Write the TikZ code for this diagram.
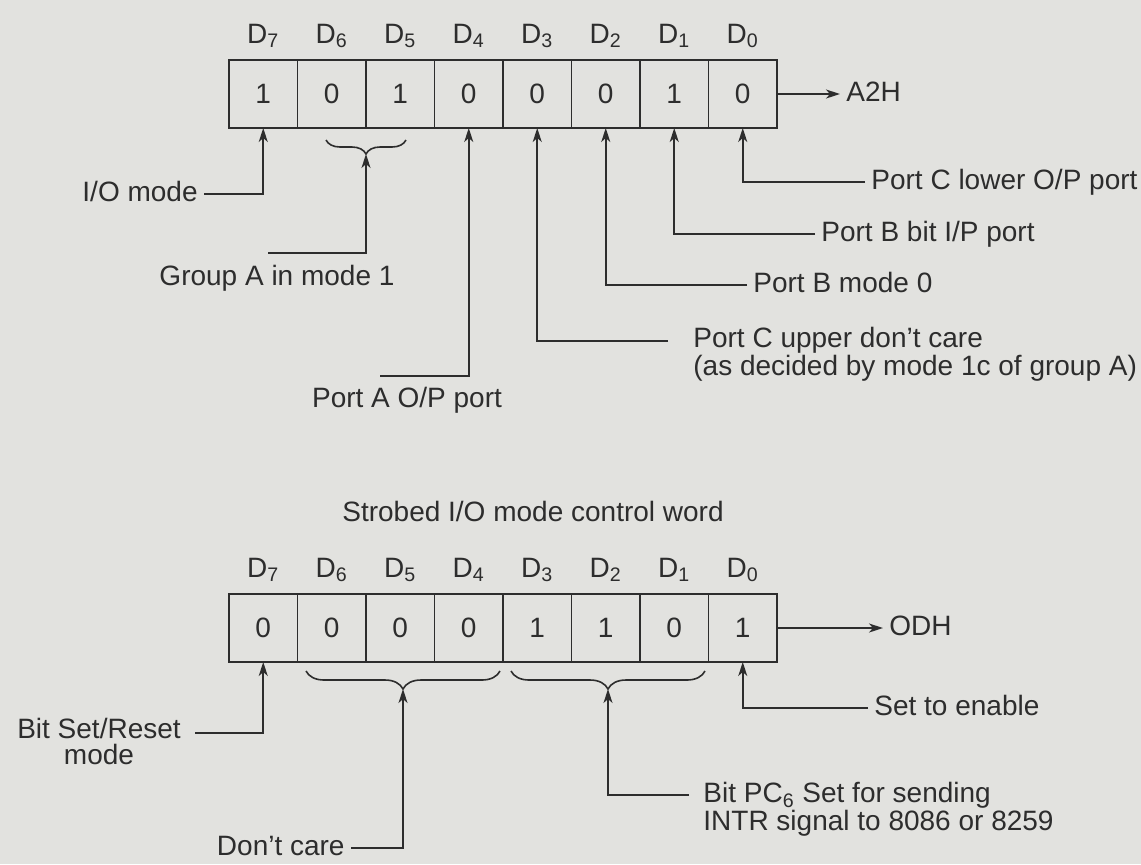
\documentclass[tikz,border=0pt]{standalone}
\usepackage{fontspec}
\setmainfont{Liberation Sans}
\usetikzlibrary{positioning,arrows.meta,decorations.pathreplacing}
\definecolor{paper}{RGB}{226,226,223}
\definecolor{ink}{RGB}{45,45,45}

\begin{document}
\begin{tikzpicture}[x=0.5pt, y=-0.5pt,
    every node/.style={font=\fontsize{14}{13}\selectfont, text=ink},
    cell/.style={draw=ink, line width=0.8pt, minimum width=34.25pt, minimum height=34pt, inner sep=0pt, outer sep=0pt},
    txt/.style={inner sep=3pt, text height=10pt, text depth=3pt},
    multi/.style={inner sep=3pt, align=left},
    arr/.style={draw=ink, line width=0.8pt, -{Stealth[length=7pt,width=4.5pt,inset=2pt]}},
    brc/.style={draw=ink, line width=0.8pt, decorate, decoration={brace, mirror, amplitude=#1}}]

    % paper
    \fill[paper] (0,0) rectangle (1141,864);
    \useasboundingbox (0,0) rectangle (1141,864);

    % Mode word A2H
    \foreach \b/\v in {7/1,6/0,5/1,4/0,3/0,2/0,1/1,0/0} {
        \node[cell] (t\b) at ({263.25+68.5*(7-\b)},94) {\v};
        \node[txt, above=2pt of t\b] (dt\b) {D\textsubscript{\b}};
    }
    \node[txt, anchor=west] (a2h) at (840,94) {A2H};
    \draw[arr] (t0.east) -- (a2h.west);

    \draw[brc=7pt] (326,140) -- (406,140);
    \coordinate (brA) at (366,154);

    \node[txt, anchor=east] (iom) at (204,194) {I/O mode};
    \draw[arr] (iom.east) -| (t7.south);

    \node[txt] (grpa) at (277,278) {Group A in mode 1};
    \coordinate (gaend) at (268,253);
    \draw[arr] (gaend) -| (brA);

    \node[txt] (porta) at (407,400) {Port A O/P port};
    \coordinate (paend) at (380,376);
    \draw[arr] (paend) -| (t4.south);

    \node[multi, anchor=north west] (pcu) at (687,321) {Port C upper don't care\\(as decided by mode 1c of group A)};
    \coordinate (pcuend) at (668,341);
    \draw[arr] (pcuend) -| (t3.south);

    \node[txt, anchor=west] (pbm) at (747,285) {Port B mode 0};
    \draw[arr] (pbm.west) -| (t2.south);

    \node[txt, anchor=west] (pbb) at (815,234) {Port B bit I/P port};
    \draw[arr] (pbb.west) -| (t1.south);

    \node[txt, anchor=west] (pcl) at (865,182) {Port C lower O/P port};
    \draw[arr] (pcl.west) -| (t0.south);

    % Bit set/reset word ODH
    \node[txt] (title) at (533,514) {Strobed I/O mode control word};
    \foreach \b/\v in {7/0,6/0,5/0,4/0,3/1,2/1,1/0,0/1} {
        \node[cell] (b\b) at ({263.25+68.5*(7-\b)},628) {\v};
        \node[txt, above=2pt of b\b] (db\b) {D\textsubscript{\b}};
    }
    \node[txt, anchor=west] (odh) at (883,628) {ODH};
    \draw[arr] (b0.east) -- (odh.west);

    \draw[brc=9pt] (306,671) -- (500,671);
    \draw[brc=9pt] (511,671) -- (705,671);
    \coordinate (brB) at (403,689);
    \coordinate (brC) at (608,689);

    \node[multi, align=center, anchor=north] (bsr) at (99,712) {Bit Set/Reset\\mode};
    \coordinate (bsrend) at (195,733);
    \draw[arr] (bsrend) -| (b7.south);

    \node[txt, anchor=east] (dc) at (351,848) {Don't care};
    \draw[arr] (dc.east) -| (brB);

    \node[multi, anchor=north west] (pc6) at (697,776) {Bit PC\textsubscript{6} Set for sending\\INTR signal to 8086 or 8259};
    \coordinate (pc6end) at (689,795);
    \draw[arr] (pc6end) -| (brC);

    \node[txt, anchor=west] (ste) at (868,708) {Set to enable};
    \draw[arr] (ste.west) -| (b0.south);
\end{tikzpicture}
\end{document}
